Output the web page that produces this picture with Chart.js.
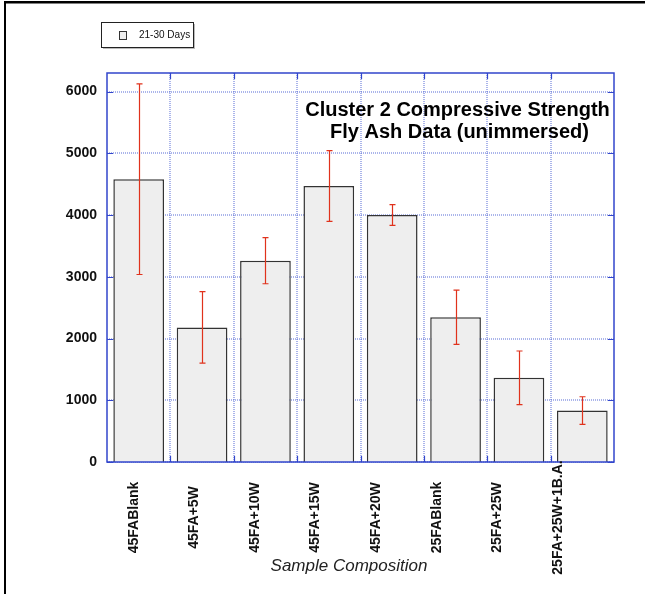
<!DOCTYPE html>
<html>
<head>
<meta charset="utf-8">
<script src="https://cdn.jsdelivr.net/npm/chart.js@4.4.0/dist/chart.umd.min.js"></script>
<style>
  html, body { margin: 0; padding: 0; background: #ffffff; }
  canvas { display: block; }
</style>
</head>
<body>
<canvas id="chart" width="645" height="594"></canvas>
<script>
// Sample mixes tested
const categories = ['45FABlank', '45FA+5W', '45FA+10W', '45FA+15W', '45FA+20W', '25FABlank', '25FA+25W', '25FA+25W+1B.A.'];
// Series name
const seriesLabel = '21-30 Days';
// Mean compressive strength (psi) and standard deviation
const strength = [4580, 2180, 3260, 4470, 4000, 2345, 1363, 833];
const stdDev = [1543, 578, 373, 572, 167, 440, 435, 224];
// Value axis ticks
const yTicks = [0, 1000, 2000, 3000, 4000, 5000, 6000];
const titleLines = ['Cluster 2 Compressive Strength', 'Fly Ash Data (unimmersed)'];
const xAxisTitle = 'Sample Composition';

const FONT = '"Liberation Sans", Arial, Helvetica, sans-serif';
const FRAME_BLUE = '#3246cc';
const GRID_BLUE = 'rgba(70, 92, 210, 0.9)';
const ERR_RED = '#e0321c';

const pagePlugin = {
  id: 'page',
  beforeDraw(chart) {
    const ctx = chart.ctx;
    ctx.save();
    ctx.fillStyle = '#ffffff';
    ctx.fillRect(0, 0, chart.width, chart.height);
    // page frame (top and left edges)
    ctx.fillStyle = '#000000';
    ctx.fillRect(4, 1, chart.width - 4, 2.5);
    ctx.fillRect(4, 1, 2, chart.height - 1);
    ctx.restore();
  }
};

// dotted grid: value lines and category boundaries (soft, two pixels wide)
const gridPlugin = {
  id: 'dottedGrid',
  beforeDatasetsDraw(chart) {
    const ctx = chart.ctx;
    const a = chart.chartArea;
    const xs = chart.scales.x, ys = chart.scales.y;
    ctx.save();
    ctx.strokeStyle = GRID_BLUE;
    ctx.lineWidth = 1;
    ctx.setLineDash([1, 1]);
    ctx.beginPath();
    yTicks.forEach(t => {
      const y = Math.round(ys.getPixelForValue(t));
      ctx.moveTo(a.left, y); ctx.lineTo(a.right, y);
    });
    for (let i = 1; i < categories.length; i++) {
      const x = Math.round((xs.getPixelForValue(i - 1) + xs.getPixelForValue(i)) / 2);
      ctx.moveTo(x, a.top); ctx.lineTo(x, a.bottom);
    }
    ctx.stroke();
    ctx.restore();
  }
};

const errorBarPlugin = {
  id: 'errorBars',
  afterDatasetsDraw(chart) {
    const ctx = chart.ctx;
    const xs = chart.scales.x, ys = chart.scales.y;
    ctx.save();
    ctx.strokeStyle = ERR_RED;
    ctx.lineWidth = 1.2;
    strength.forEach((v, i) => {
      const x = Math.round(xs.getPixelForValue(i)) + 0.5;
      const yt = ys.getPixelForValue(v + stdDev[i]);
      const yb = ys.getPixelForValue(v - stdDev[i]);
      ctx.beginPath();
      ctx.moveTo(x, yt); ctx.lineTo(x, yb);
      ctx.moveTo(x - 3, yt); ctx.lineTo(x + 3, yt);
      ctx.moveTo(x - 3, yb); ctx.lineTo(x + 3, yb);
      ctx.stroke();
    });
    ctx.restore();
  }
};

// rotated labels sit on a slightly tighter pitch than the bars
function labelX(xs, i) {
  const band = xs.getPixelForValue(1) - xs.getPixelForValue(0);
  return xs.getPixelForValue(0) - 5 + i * band * 0.957;
}

const decorPlugin = {
  id: 'decor',
  afterDraw(chart) {
    const ctx = chart.ctx;
    const a = chart.chartArea;
    const xs = chart.scales.x, ys = chart.scales.y;
    ctx.save();

    // plot frame
    ctx.strokeStyle = FRAME_BLUE;
    ctx.lineWidth = 1.5;
    ctx.strokeRect(a.left, a.top, a.right - a.left, a.bottom - a.top);

    // inward tick marks on all four sides
    ctx.lineWidth = 1.2;
    ctx.beginPath();
    yTicks.forEach(t => {
      const y = Math.round(ys.getPixelForValue(t)) + 0.5;
      ctx.moveTo(a.left, y); ctx.lineTo(a.left + 6, y);
      ctx.moveTo(a.right, y); ctx.lineTo(a.right - 6, y);
    });
    for (let i = 1; i < categories.length; i++) {
      const x = Math.round((xs.getPixelForValue(i - 1) + xs.getPixelForValue(i)) / 2) + 0.5;
      ctx.moveTo(x, a.top); ctx.lineTo(x, a.top + 6);
      ctx.moveTo(x, a.bottom); ctx.lineTo(x, a.bottom - 6);
    }
    ctx.stroke();

    // chart title inside the plot
    ctx.fillStyle = '#000000';
    ctx.font = 'bold 20px ' + FONT;
    ctx.textAlign = 'center';
    ctx.textBaseline = 'alphabetic';
    const cx = (a.left + a.right) / 2 + 97;
    ctx.fillText(titleLines[0], cx, a.top + 43);
    ctx.fillText(titleLines[1], cx + 2, a.top + 65);

    // rotated category labels
    ctx.font = 'bold 14px ' + FONT;
    ctx.fillStyle = '#111111';
    ctx.textBaseline = 'middle';
    categories.forEach((c, i) => {
      ctx.save();
      ctx.translate(labelX(xs, i), a.bottom + 55.5);
      ctx.rotate(-Math.PI / 2);
      ctx.textAlign = 'center';
      ctx.fillText(c, 0, 0);
      ctx.restore();
    });

    // category axis title
    ctx.font = 'italic 17px ' + FONT;
    ctx.fillStyle = '#222222';
    ctx.textAlign = 'center';
    ctx.textBaseline = 'middle';
    ctx.fillText(xAxisTitle, labelX(xs, 3.55), a.bottom + 104);

    // legend box
    ctx.fillStyle = '#bbbbbb';
    ctx.fillRect(103, 24, 92, 25);
    ctx.fillStyle = '#ffffff';
    ctx.fillRect(101.5, 22.5, 92, 25);
    ctx.strokeStyle = '#222222';
    ctx.lineWidth = 1;
    ctx.strokeRect(101.5, 22.5, 92, 25);
    ctx.fillStyle = '#eeeeee';
    ctx.fillRect(119.5, 31.5, 7, 8);
    ctx.strokeStyle = '#333333';
    ctx.strokeRect(119.5, 31.5, 7, 8);
    ctx.fillStyle = '#111111';
    ctx.font = '10px ' + FONT;
    ctx.textAlign = 'left';
    ctx.textBaseline = 'middle';
    ctx.fillText(seriesLabel, 139, 35.5);

    ctx.restore();
  }
};

new Chart(document.getElementById('chart'), {
  type: 'bar',
  data: {
    labels: categories,
    datasets: [{
      label: seriesLabel,
      data: strength,
      backgroundColor: '#eeeeee',
      borderColor: '#333333',
      borderWidth: 1.5,
      barPercentage: 0.8,
      categoryPercentage: 1.0
    }]
  },
  options: {
    responsive: false,
    animation: false,
    events: [],
    layout: { padding: { left: 0, right: 31, top: 73, bottom: 0 } },
    plugins: {
      legend: { display: false },
      title: { display: false },
      tooltip: { enabled: false }
    },
    scales: {
      x: {
        type: 'category',
        offset: true,
        grid: { display: false, drawTicks: false },
        border: { display: false },
        ticks: { display: false },
        afterFit(scale) { scale.height = 132; }
      },
      y: {
        type: 'linear',
        min: 0,
        max: 6300,
        grid: { display: false, drawTicks: false },
        border: { display: false },
        afterBuildTicks(scale) { scale.ticks = yTicks.map(v => ({ value: v })); },
        ticks: {
          padding: 10,
          color: '#111111',
          font: { family: FONT, size: 14, weight: 'bold' },
          callback: v => String(v)
        },
        afterFit(scale) { scale.width = 107; }
      }
    }
  },
  plugins: [pagePlugin, gridPlugin, errorBarPlugin, decorPlugin]
});
</script>
</body>
</html>
